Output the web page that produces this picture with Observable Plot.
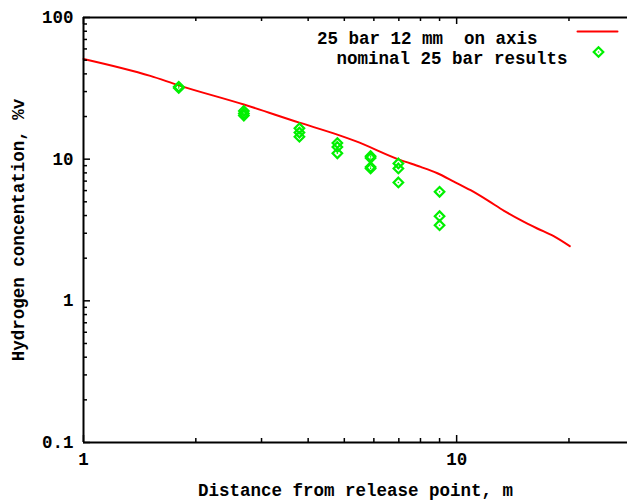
<!DOCTYPE html>
<html><head><meta charset="utf-8">
<script src="https://cdn.jsdelivr.net/npm/d3@7"></script>
<script src="https://cdn.jsdelivr.net/npm/@observablehq/plot@0.6"></script>
<style>
html,body{margin:0;padding:0;background:#fff;overflow:hidden}
svg text{white-space:pre}
</style>
</head><body><div id="chart"></div>
<script>
// ---- data ----
const xDomain = [1, 28.7];
const yDomain = [0.1, 100];
const xMajorTicks = [1, 10];
const xMinorTicks = [2, 3, 4, 5, 6, 7, 8, 9, 20];
const yMajorTicks = [0.1, 1, 10, 100];
const yMinorTicks = [0.2, 0.3, 0.4, 0.5, 0.6, 0.7, 0.8, 0.9, 2, 3, 4, 5, 6, 7, 8, 9, 20, 30, 40, 50, 60, 70, 80, 90];
const xTitle = "Distance from release point, m";
const yTitle = "Hydrogen concentation, %v";
const seriesNames = ["25 bar 12 mm  on axis", "nominal 25 bar results"];

// 25 bar 12 mm on axis (model curve)
const lineX = [1, 1.51, 1.8, 2.69, 3.79, 4.79, 5.36, 7.08, 8.01, 8.88, 9.83, 10.9, 12.08, 13.4, 14.85, 16.45, 18.2, 20.1];
const lineY = [51.0, 38.7, 33.2, 24.3, 18.1, 14.9, 13.4, 9.84, 8.82, 7.95, 6.95, 6.04, 5.14, 4.32, 3.71, 3.24, 2.86, 2.43];

// nominal 25 bar results (measurements)
const pointX = [1.8, 1.8, 2.69, 2.69, 2.69, 3.79, 3.79, 3.79, 4.79, 4.79, 4.79, 5.88, 5.88, 5.88, 5.88, 6.98, 6.98, 6.98, 9.0, 9.0, 9.0];
const pointY = [32.4, 31.8, 21.9, 21.0, 20.3, 16.5, 15.4, 14.4, 13.0, 12.2, 11.0, 10.5, 10.2, 8.8, 8.6, 9.33, 8.6, 6.85, 5.88, 3.96, 3.42];

// ---- build ----
const lineData = lineX.map((x, i) => ({x, y: lineY[i]}));
const pointData = pointX.map((x, i) => ({x, y: pointY[i]}));
const RED = "#ff0000", GREEN = "#00f000";
const hline = {draw(ctx, l) { ctx.moveTo(0, 0); ctx.lineTo(l, 0); }};
const fmt = d => String(d);

const W = 627, H = 501, ML = 83, MR = 0, MT = 17, MB = 59;
const PW = W - ML - MR, PH = H - MT - MB;
const majorLen = 7, minorLen = 4;

const chart = Plot.plot({
  width: W, height: H,
  marginLeft: ML, marginRight: MR, marginTop: MT, marginBottom: MB,
  style: {fontFamily: "'Liberation Mono', 'DejaVu Sans Mono', monospace", fontSize: "17.5px", fontWeight: "bold", background: "#fff", color: "#000"},
  x: {type: "log", domain: xDomain},
  y: {type: "log", domain: yDomain},
  marks: [
    Plot.line(lineData, {x: "x", y: "y", stroke: RED, strokeWidth: 2, curve: "monotone-x"}),
    Plot.dot(pointData, {x: "x", y: "y", symbol: "diamond2", r: 4.3, stroke: GREEN, strokeWidth: 2.2, fill: "none"}),
    Plot.dot(pointData, {x: "x", y: "y", r: 0.8, fill: GREEN, stroke: "none"}),
    // inward ticks
    Plot.ruleX(xMajorTicks, {insetTop: PH - majorLen, stroke: "#000", strokeWidth: 1.5}),
    Plot.ruleX(xMinorTicks, {insetTop: PH - minorLen, stroke: "#000", strokeWidth: 1.5}),
    Plot.ruleX(xMajorTicks, {insetBottom: PH - majorLen, stroke: "#000", strokeWidth: 1.5}),
    Plot.ruleX(xMinorTicks, {insetBottom: PH - minorLen, stroke: "#000", strokeWidth: 1.5}),
    Plot.ruleY(yMajorTicks, {insetRight: PW - majorLen, stroke: "#000", strokeWidth: 1.5}),
    Plot.ruleY(yMinorTicks, {insetRight: PW - minorLen, stroke: "#000", strokeWidth: 1.5}),
    // tick labels and titles
    Plot.axisX(xMajorTicks, {anchor: "bottom", tickSize: 0, tickPadding: 10, tickFormat: fmt, label: xTitle, labelAnchor: "center", labelOffset: 53, labelArrow: "none"}),
    Plot.axisY(yMajorTicks, {anchor: "left", tickSize: 0, tickPadding: 10, tickFormat: fmt, label: yTitle, labelAnchor: "center", labelOffset: 72, labelArrow: "none"}),
    // border
    Plot.ruleX([xDomain[0]], {stroke: "#000", strokeWidth: 2}),
    Plot.ruleY([yDomain[0]], {stroke: "#000", strokeWidth: 2}),
    Plot.ruleY([yDomain[1]], {stroke: "#000", strokeWidth: 2}),
    // legend
    Plot.text([seriesNames[0]], {frameAnchor: "top-right", text: d => d, textAnchor: "end", dx: -90, dy: 14, fill: "#000"}),
    Plot.text([seriesNames[1]], {frameAnchor: "top-right", text: d => d, textAnchor: "end", dx: -60, dy: 34.5, fill: "#000"}),
    Plot.vector([seriesNames[0]], {frameAnchor: "top-right", dx: -50, dy: 14, length: 40, anchor: "start", shape: hline, stroke: RED, strokeWidth: 2}),
    Plot.dot([seriesNames[1]], {frameAnchor: "top-right", dx: -29, dy: 34.5, symbol: "diamond2", r: 4.3, stroke: GREEN, strokeWidth: 2.2, fill: "none"}),
    Plot.dot([seriesNames[1]], {frameAnchor: "top-right", dx: -29, dy: 34.5, r: 0.8, fill: GREEN, stroke: "none"})
  ]
});
document.getElementById("chart").appendChild(chart);
</script>
</body></html>
